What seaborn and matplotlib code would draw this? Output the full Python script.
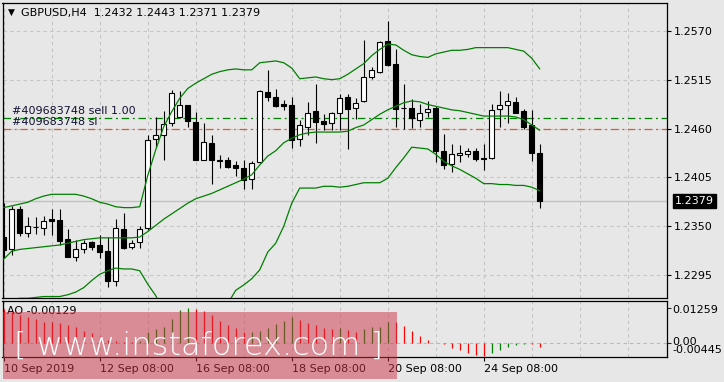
import matplotlib
matplotlib.use("Agg")
import matplotlib.pyplot as plt
from matplotlib.patches import Rectangle
import numpy as np
import pandas as pd
import seaborn as sns

# ---------------- data ----------------
opens = [1.2338, 1.2324, 1.2370, 1.2343, 1.2349, 1.2348, 1.2358, 1.2357, 1.2336, 1.2315,
         1.2324, 1.2332, 1.2329, 1.2322, 1.2288, 1.2347, 1.2327, 1.2332, 1.2348, 1.2448,
         1.2453, 1.2466, 1.2473, 1.2486, 1.2467, 1.2425, 1.2444, 1.2424, 1.2425, 1.2419,
         1.2416, 1.2403, 1.2422, 1.2501, 1.2495, 1.2488, 1.2486, 1.2448, 1.2462, 1.2480,
         1.2468, 1.2466, 1.2477, 1.2495, 1.2483, 1.2491, 1.2518, 1.2524, 1.2558, 1.2533,
         1.2483, 1.2483, 1.2470, 1.2479, 1.2483, 1.2435, 1.2420, 1.2430, 1.2431, 1.2435,
         1.2427, 1.2427, 1.2482, 1.2487, 1.2490, 1.2480, 1.2464, 1.2432]
highs = [1.2376, 1.2373, 1.2373, 1.2360, 1.2360, 1.2362, 1.2369, 1.2369, 1.2347, 1.2335,
         1.2335, 1.2334, 1.2340, 1.2338, 1.2358, 1.2365, 1.2335, 1.2350, 1.2453, 1.2473,
         1.2480, 1.2503, 1.2502, 1.2487, 1.2479, 1.2466, 1.2453, 1.2430, 1.2428, 1.2423,
         1.2425, 1.2423, 1.2503, 1.2526, 1.2505, 1.2492, 1.2495, 1.2470, 1.2490, 1.2510,
         1.2476, 1.2479, 1.2499, 1.2499, 1.2494, 1.2560, 1.2529, 1.2558, 1.2581, 1.2549,
         1.2510, 1.2493, 1.2488, 1.2491, 1.2485, 1.2454, 1.2443, 1.2441, 1.2438, 1.2438,
         1.2443, 1.2488, 1.2502, 1.2500, 1.2496, 1.2482, 1.2481, 1.2443]
lows = [1.2314, 1.2318, 1.2339, 1.2338, 1.2341, 1.2340, 1.2340, 1.2329, 1.2315, 1.2311,
        1.2320, 1.2323, 1.2314, 1.2282, 1.2283, 1.2325, 1.2325, 1.2326, 1.2346, 1.2439,
        1.2425, 1.2463, 1.2472, 1.2462, 1.2425, 1.2425, 1.2398, 1.2416, 1.2416, 1.2407,
        1.2392, 1.2392, 1.2421, 1.2491, 1.2484, 1.2481, 1.2438, 1.2440, 1.2453, 1.2444,
        1.2458, 1.2458, 1.2458, 1.2437, 1.2471, 1.2490, 1.2516, 1.2523, 1.2530, 1.2462,
        1.2459, 1.2461, 1.2462, 1.2473, 1.2422, 1.2415, 1.2411, 1.2422, 1.2428, 1.2423,
        1.2413, 1.2426, 1.2462, 1.2466, 1.2477, 1.2460, 1.2424, 1.2371]
closes = [1.2323, 1.2370, 1.2342, 1.2350, 1.2349, 1.2356, 1.2356, 1.2334, 1.2316, 1.2324,
          1.2331, 1.2327, 1.2321, 1.2288, 1.2348, 1.2326, 1.2331, 1.2347, 1.2447, 1.2453,
          1.2465, 1.2500, 1.2487, 1.2468, 1.2425, 1.2445, 1.2425, 1.2424, 1.2417, 1.2416,
          1.2402, 1.2421, 1.2502, 1.2496, 1.2485, 1.2485, 1.2447, 1.2464, 1.2478, 1.2467,
          1.2465, 1.2478, 1.2494, 1.2482, 1.2489, 1.2518, 1.2526, 1.2557, 1.2531, 1.2482,
          1.2483, 1.2472, 1.2478, 1.2482, 1.2435, 1.2419, 1.2431, 1.2432, 1.2435, 1.2426,
          1.2426, 1.2481, 1.2486, 1.2491, 1.2478, 1.2462, 1.2433, 1.2379]

bb_upper = [1.2371, 1.2373, 1.2375, 1.2377, 1.2381, 1.2384, 1.2386, 1.2386, 1.2386, 1.2386,
            1.2384, 1.2381, 1.2377, 1.2375, 1.2372, 1.2371, 1.2371, 1.2372, 1.2407, 1.2436,
            1.2462, 1.2479, 1.2494, 1.2505, 1.2511, 1.2516, 1.2521, 1.2524, 1.2526, 1.2527,
            1.2526, 1.2526, 1.2534, 1.2535, 1.2536, 1.2534, 1.2528, 1.2516, 1.2517, 1.2518,
            1.2516, 1.2515, 1.2516, 1.2521, 1.2527, 1.2533, 1.2542, 1.2549, 1.2555, 1.2554,
            1.2548, 1.2543, 1.2541, 1.2540, 1.2544, 1.2546, 1.2548, 1.2548, 1.2549, 1.2551,
            1.2551, 1.2551, 1.2551, 1.2551, 1.2549, 1.2547, 1.2539, 1.2527]
bb_middle = [1.2313, 1.2322, 1.2324, 1.2325, 1.2326, 1.2327, 1.2328, 1.2329, 1.2331, 1.2333,
             1.2335, 1.2336, 1.2337, 1.2337, 1.2337, 1.2337, 1.2337, 1.2338, 1.2344, 1.2351,
             1.2358, 1.2364, 1.2370, 1.2376, 1.2381, 1.2384, 1.2387, 1.2391, 1.2395, 1.2399,
             1.2403, 1.2408, 1.2419, 1.2429, 1.2435, 1.2444, 1.2449, 1.2453, 1.2455, 1.2456,
             1.2456, 1.2456, 1.2456, 1.2457, 1.2461, 1.2464, 1.2470, 1.2476, 1.2481, 1.2485,
             1.2489, 1.2491, 1.2490, 1.2487, 1.2485, 1.2483, 1.2481, 1.2480, 1.2478, 1.2476,
             1.2474, 1.2474, 1.2474, 1.2474, 1.2473, 1.2470, 1.2464, 1.2458]
bb_lower = [1.2254, 1.2267, 1.2269, 1.2269, 1.2270, 1.2271, 1.2271, 1.2271, 1.2273, 1.2276,
            1.2281, 1.2289, 1.2296, 1.2300, 1.2303, 1.2302, 1.2302, 1.2300, 1.2285, 1.2272,
            1.2255, 1.2249, 1.2246, 1.2246, 1.2251, 1.2252, 1.2254, 1.2257, 1.2263, 1.2278,
            1.2284, 1.2291, 1.2301, 1.2321, 1.2331, 1.2350, 1.2376, 1.2393, 1.2393, 1.2393,
            1.2395, 1.2395, 1.2394, 1.2395, 1.2397, 1.2399, 1.2399, 1.2399, 1.2404, 1.2416,
            1.2427, 1.2439, 1.2438, 1.2437, 1.2431, 1.2423, 1.2418, 1.2414, 1.2409, 1.2404,
            1.2398, 1.2398, 1.2397, 1.2397, 1.2396, 1.2396, 1.2394, 1.2390]

ao_values = [0.0124, 0.0112, 0.0101, 0.0094, 0.0086, 0.0078, 0.0076, 0.0072, 0.0065, 0.0057,
             0.0046, 0.0036, 0.0027, 0.0013, 0.0010, 0.0004, 0.0003, 0.0008, 0.0042, 0.0051,
             0.0060, 0.0088, 0.0119, 0.01259, 0.0122, 0.0116, 0.0102, 0.0079, 0.0065, 0.0056,
             0.0039, 0.0040, 0.0043, 0.0054, 0.0068, 0.0082, 0.0093, 0.0085, 0.0073, 0.0066,
             0.0056, 0.0051, 0.0054, 0.0048, 0.0042, 0.0051, 0.0059, 0.0060, 0.0076, 0.0075,
             0.0062, 0.0045, 0.0028, 0.0011, 0.0002, -0.0003, -0.0017, -0.0025, -0.0034, -0.0042,
             -0.00445, -0.0034, -0.0023, -0.0015, -0.0006, -0.0003, -0.0004, -0.00129]
ao_dirs = ["r"] * 17 + ["g"] * 7 + ["r"] * 7 + ["g"] * 6 + ["r"] * 5 + ["g", "r", "r"] + \
          ["g"] * 4 + ["r"] * 12 + ["g"] * 5 + ["r", "r"]

date_labels = ["10 Sep 2019", "12 Sep 08:00", "16 Sep 08:00", "18 Sep 08:00",
               "20 Sep 08:00", "24 Sep 08:00"]
date_label_bars = [0, 12, 24, 36, 48, 60]
price_ticks = [1.2570, 1.2515, 1.2460, 1.2405, 1.2350, 1.2295]
title_text = "GBPUSD,H4  1.2432 1.2443 1.2371 1.2379"
sell_level = 1.2472
sl_level = 1.2459
bid_price = 1.2379
order_labels = ["#409683748 sell 1.00", "#409683748 sl"]
ao_title = "AO -0.00129"
ao_scale_labels = ["0.01259", "0.00", "-0.00445"]
watermark = "[ www.instaforex.com ]"

# ---------------- style ----------------
BG = "#e7e7e7"
GRID = "#c4c4c4"
sns.set_style("white", rc={"axes.facecolor": BG, "figure.facecolor": BG,
                           "axes.edgecolor": "black"})
plt.rcParams["font.family"] = ["DejaVu Sans"]

W, H = 724, 382
fig = plt.figure(figsize=(W / 100, H / 100), dpi=100)
fig.patch.set_facecolor(BG)


def fx(px):
    return px / W


def fy(py):
    return 1 - py / H


ax = fig.add_axes([fx(2.5), fy(297.5), (667 - 2.5) / W, (297.5 - 3) / H])
ao = fig.add_axes([fx(2.5), fy(357.3), (667 - 2.5) / W, (357.3 - 300.7) / H])
for a in (ax, ao):
    a.set_facecolor(BG)
    for s in a.spines.values():
        s.set_linewidth(0.9)
        s.set_color("black")

n = len(closes)
bars = np.arange(n)
o = np.array(opens)
c = np.array(closes)
hi = np.array(highs)
lo = np.array(lows)
up = c >= o

# ---------------- main panel ----------------
ax.axhline(bid_price, color="#c2c2c2", lw=1.0, zorder=1.5)
ax.axhline(sell_level, color="#008000", lw=0.9, dashes=(6, 3, 1.5, 3), zorder=1.6)
ax.axhline(sl_level, color="#ee5522", lw=0.9, dashes=(6, 3, 1.5, 3), zorder=1.6)

ax.vlines(bars, lo, hi, color="black", lw=0.8, zorder=3)
body_bottom = np.minimum(o, c)
body_h = np.maximum(np.abs(c - o), 0.00002)
ax.bar(bars[up], body_h[up], bottom=body_bottom[up], width=0.6, facecolor="white",
       edgecolor="black", linewidth=0.8, zorder=4)
ax.bar(bars[~up], body_h[~up], bottom=body_bottom[~up], width=0.6, facecolor="black",
       edgecolor="black", linewidth=0.8, zorder=4)

bands = pd.DataFrame({"bar": bars, "upper": bb_upper, "middle": bb_middle, "lower": bb_lower})
for col in ["upper", "middle", "lower"]:
    sns.lineplot(data=bands, x="bar", y=col, ax=ax, color="#008000", linewidth=0.9,
                 zorder=5, legend=False)

ax.set_xlim(-0.15, 82.9)
ax.set_ylim(1.22699, 1.26012)
ax.set_xlabel("")
ax.set_ylabel("")
ax.yaxis.tick_right()
ax.set_yticks(price_ticks)
ax.set_yticklabels([f"{t:.4f}" for t in price_ticks])
ax.tick_params(axis="y", direction="out", length=3, width=0.8, pad=2, labelsize=8,
               colors="black", right=True, left=False)
ax.set_xticks(np.arange(0, 83, 6))
ax.tick_params(axis="x", length=0, labelbottom=False, bottom=False)
ax.grid(True, color=GRID, linestyle=(0, (3, 3)), lw=0.8)
ax.set_axisbelow(True)

ax.text(1.012, bid_price, f"{bid_price:.4f}", transform=ax.get_yaxis_transform(),
        ha="left", va="center", fontsize=8, color="white",
        bbox=dict(boxstyle="square,pad=0.18", facecolor="black", edgecolor="black"))

ax.text((11 - 2.5) / 664.5, 1 - (12.7 - 3) / 294.5, "▼", transform=ax.transAxes,
        ha="center", va="center", fontsize=6.5, color="black")
ax.text((21 - 2.5) / 664.5, 1 - (12.7 - 3) / 294.5, title_text, transform=ax.transAxes,
        ha="left", va="center", fontsize=8, color="black")
ax.text((11.7 - 2.5) / 664.5, 1 - (111 - 3) / 294.5, order_labels[0], transform=ax.transAxes,
        ha="left", va="center", fontsize=8, color="#111133")
ax.text((11.7 - 2.5) / 664.5, 1 - (121.7 - 3) / 294.5, order_labels[1], transform=ax.transAxes,
        ha="left", va="center", fontsize=8, color="#111133")

# ---------------- AO panel ----------------
ao_cols = ["#008000" if d == "g" else "#ff0000" for d in ao_dirs]
ao.axhline(0, color="#b8b8b8", lw=0.8, linestyle=(0, (3, 3)), zorder=1)
ao.vlines(bars, 0, ao_values, colors=ao_cols, lw=0.9, zorder=3)
ao.set_xlim(-0.15, 82.9)
ao.set_ylim(-0.00504, 0.01534)
ao.set_xticks(date_label_bars)
ao.set_xticklabels(date_labels, ha="left")
ao.set_xticks(np.arange(0, 83, 6), minor=True)
ao.tick_params(axis="x", which="major", direction="out", length=3, width=0.8, pad=1.5,
               labelsize=8, colors="black", bottom=True)
ao.tick_params(axis="x", which="minor", length=0)
ao.grid(True, axis="x", which="both", color=GRID, linestyle=(0, (3, 3)), lw=0.8)
ao.set_axisbelow(True)
ao.yaxis.tick_right()
ao.set_yticks([0.01259, 0.0])
ao.set_yticklabels([])
ao.tick_params(axis="y", direction="out", length=3, width=0.8, right=True, left=False)

ao.text((7.3 - 2.5) / 664.5, 1 - (311 - 300.7) / 56.6, ao_title, transform=ao.transAxes,
        ha="left", va="center", fontsize=8, color="black")
for lab, py in zip(ao_scale_labels, [310, 341.5, 350]):
    ao.text((672 - 2.5) / 664.5, 1 - (py - 300.7) / 56.6, lab, transform=ao.transAxes,
            ha="left", va="center", fontsize=8, color="black")

# ---------------- watermark ----------------
fig.add_artist(Rectangle((fx(3), fy(379)), (397 - 3) / W, (379 - 312.3) / H,
                         transform=fig.transFigure, facecolor="#cc3344", alpha=0.5,
                         edgecolor="none", zorder=10))
fig.text(fx(199), fy(346), watermark, ha="center", va="center", fontsize=23,
         color="white", fontweight="light", zorder=11)

fig.savefig("out.png", dpi=100, facecolor=BG)
